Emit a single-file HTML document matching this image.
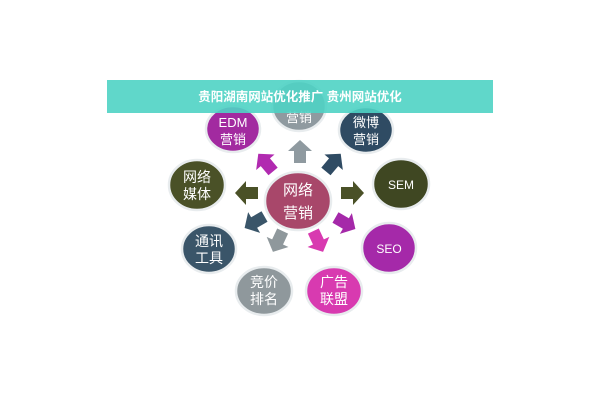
<!DOCTYPE html>
<html><head><meta charset="utf-8"><style>
html,body{margin:0;padding:0;background:#fff;}
svg{display:block}
text{font-family:"Liberation Sans","Noto Sans CJK SC",sans-serif;}
</style></head><body>
<svg width="600" height="400" viewBox="0 0 600 400">
<defs>
<polygon id="ar" points="-11,-6 1,-6 1,-12 12,0 1,12 1,6 -11,6"/>
</defs>
<g stroke="#e8ecee" stroke-width="2.5">
<ellipse cx="299" cy="106" rx="27" ry="25" fill="#8f9aa0"/>
<ellipse cx="233" cy="129" rx="27" ry="23" fill="#a22aa0"/>
<ellipse cx="366" cy="130" rx="27" ry="23" fill="#2f4b63"/>
<ellipse cx="197" cy="185" rx="28" ry="25" fill="#4a5127"/>
<ellipse cx="401" cy="184" rx="28" ry="25" fill="#3f4722"/>
<ellipse cx="209" cy="249" rx="27" ry="24" fill="#3a5569"/>
<ellipse cx="389" cy="248" rx="27" ry="25" fill="#a529a9"/>
<ellipse cx="264" cy="291" rx="28" ry="24" fill="#8f989c"/>
<ellipse cx="334" cy="291" rx="28" ry="24" fill="#d83ab0"/>
<ellipse cx="298" cy="201" rx="33" ry="29" fill="#a8476a"/>
</g>
<g>
<use href="#ar" fill="#8f9aa0" transform="translate(300,152) rotate(-90)"/>
<use href="#ar" fill="#b12ab0" transform="translate(266,163) rotate(-130)"/>
<use href="#ar" fill="#2f4b63" transform="translate(333,163) rotate(-50)"/>
<use href="#ar" fill="#4a5127" transform="translate(247,193) rotate(180)"/>
<use href="#ar" fill="#4a5127" transform="translate(352,193) rotate(0)"/>
<use href="#ar" fill="#3a5569" transform="translate(255,222) rotate(150)"/>
<use href="#ar" fill="#a529a9" transform="translate(345,223) rotate(30)"/>
<use href="#ar" fill="#8f989c" transform="translate(278,241) rotate(115)"/>
<use href="#ar" fill="#d83ab0" transform="translate(318,241) rotate(65)"/>
</g>
<g fill="#fff" font-size="14" text-anchor="middle">
<text x="299" y="122" font-size="13">营销</text>
<text x="233" y="127" font-size="13">EDM</text><text x="233" y="144" font-size="13">营销</text>
<text x="366" y="127" font-size="13">微博</text><text x="366" y="144" font-size="13">营销</text>
<text x="197" y="182">网络</text><text x="197" y="199">媒体</text>
<text x="401" y="189" font-size="12">SEM</text>
<text x="209" y="246">通讯</text><text x="209" y="263">工具</text>
<text x="389" y="253" font-size="12">SEO</text>
<text x="264" y="287">竞价</text><text x="264" y="304">排名</text>
<text x="334" y="287">广告</text><text x="334" y="304">联盟</text>
<text x="298" y="195" font-size="15">网络</text><text x="298" y="218" font-size="15">营销</text>
</g>
<rect x="107" y="80" width="386" height="33" fill="#4fd3c4" opacity="0.9"/>
<text x="300" y="101" fill="#fff" font-size="12.5" font-weight="bold" text-anchor="middle">贵阳湖南网站优化推广 贵州网站优化</text>
</svg>
</body></html>
